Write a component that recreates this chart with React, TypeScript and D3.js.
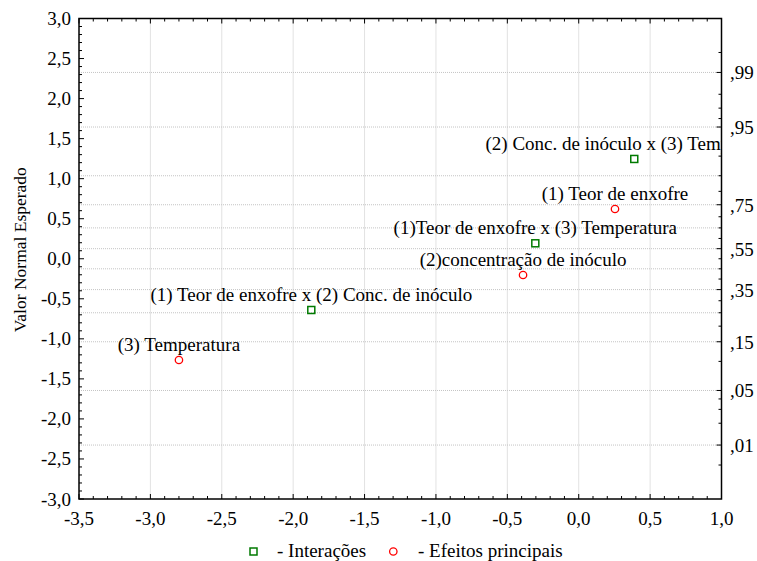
import React from "react";
import * as d3 from "d3";

// ---- data ----
const effectLabels = [
  "(2) Conc. de inóculo x (3) Temperatura",
  "(1) Teor de enxofre",
  "(1)Teor de enxofre x (3) Temperatura",
  "(2)concentração de inóculo",
  "(1) Teor de enxofre x (2) Conc. de inóculo",
  "(3) Temperatura",
];
const effectTypes = ["int", "main", "int", "main", "int", "main"];
const effectValues = [0.389, 0.254, -0.304, -0.39, -1.873, -2.8];
const expectedNormal = [1.246, 0.621, 0.193, -0.203, -0.64, -1.264];

const xTickValues = [-3.5, -3.0, -2.5, -2.0, -1.5, -1.0, -0.5, 0.0, 0.5, 1.0];
const yTickValues = [-3.0, -2.5, -2.0, -1.5, -1.0, -0.5, 0.0, 0.5, 1.0, 1.5, 2.0, 2.5, 3.0];
const probLabels = [0.01, 0.05, 0.15, 0.35, 0.55, 0.75, 0.95, 0.99];
const probGrid = [0.01, 0.05, 0.15, 0.25, 0.35, 0.45, 0.55, 0.65, 0.75, 0.85, 0.95, 0.99];
const probMinor = [
  0.005, 0.02, 0.03, 0.04, 0.1, 0.2, 0.25, 0.3, 0.4, 0.45, 0.5, 0.6, 0.65, 0.7, 0.8, 0.85,
  0.9, 0.96, 0.97, 0.98, 0.995,
];
const legendItems = ["- Interações", "- Efeitos principais"];

// inverse normal CDF (Acklam)
function qnorm(p: number): number {
  const a = [-3.969683028665376e1, 2.209460984245205e2, -2.759285104469687e2, 1.38357751867269e2, -3.066479806614716e1, 2.506628277459239];
  const b = [-5.447609879822406e1, 1.615858368580409e2, -1.556989798598866e2, 6.680131188771972e1, -1.328068155288572e1];
  const c = [-7.784894002430293e-3, -3.223964580411365e-1, -2.400758277161838, -2.549732539343734, 4.374664141464968, 2.938163982698783];
  const d = [7.784695709041462e-3, 3.224671290700398e-1, 2.445134137142996, 3.754408661907416];
  const pl = 0.02425;
  if (p < pl) {
    const q = Math.sqrt(-2 * Math.log(p));
    return (((((c[0] * q + c[1]) * q + c[2]) * q + c[3]) * q + c[4]) * q + c[5]) / ((((d[0] * q + d[1]) * q + d[2]) * q + d[3]) * q + 1);
  }
  if (p > 1 - pl) {
    const q = Math.sqrt(-2 * Math.log(1 - p));
    return -(((((c[0] * q + c[1]) * q + c[2]) * q + c[3]) * q + c[4]) * q + c[5]) / ((((d[0] * q + d[1]) * q + d[2]) * q + d[3]) * q + 1);
  }
  const q = p - 0.5;
  const r = q * q;
  return ((((((a[0] * r + a[1]) * r + a[2]) * r + a[3]) * r + a[4]) * r + a[5]) * q) / (((((b[0] * r + b[1]) * r + b[2]) * r + b[3]) * r + b[4]) * r + 1);
}

const W = 757;
const H = 561;
const L = 79;
const R = 721.5;
const T = 18.5;
const B = 499;
const FONT = '"Liberation Serif", "Times New Roman", Times, serif';

const locale = d3.formatLocale({ decimal: ",", thousands: ".", grouping: [3], currency: ["", ""], minus: "-" });
const fmt = locale.format(".1f");
const fmtProb = (p: number) => "," + String(Math.round(p * 100)).padStart(2, "0");

export default function App() {
  const x = d3.scaleLinear().domain([-3.5, 1.0]).range([L, R]);
  const y = d3.scaleLinear().domain([-3, 3]).range([B, T]);
  const xMinor = d3.range(-35, 11).map((v) => v / 10);
  const yMinor = d3.range(-30, 31).map((v) => v / 10);
  const grid = "#c4c4c4";
  const green = "#007a00";
  const red = "#ff0000";
  const ts = { fontFamily: FONT };

  return (
    <svg width={W} height={H} style={{ position: "absolute", left: 0, top: 0, background: "#fff", fontFamily: FONT }}>
      <defs>
        <clipPath id="plotclip">
          <rect x={L} y={T} width={R - L} height={B - T} />
        </clipPath>
      </defs>
      <rect x={0} y={0} width={W} height={H} fill="#fff" />
      {/* vertical grid */}
      {xTickValues.slice(1, -1).map((v) => (
        <line key={"gx" + v} x1={x(v)} x2={x(v)} y1={T} y2={B} stroke={grid} strokeWidth={1} strokeDasharray="1,1" />
      ))}
      {/* horizontal grid (normal probabilities) */}
      {probGrid.map((p) => (
        <line key={"gy" + p} x1={L} x2={R} y1={y(qnorm(p))} y2={y(qnorm(p))} stroke={grid} strokeWidth={1} strokeDasharray="1,1" />
      ))}
      {/* ticks */}
      {xMinor.map((v) => {
        const major = xTickValues.some((t) => Math.abs(t - v) < 1e-6);
        const len = major ? 5 : 3;
        return (
          <g key={"xt" + v}>
            <line x1={x(v)} x2={x(v)} y1={B} y2={B - len} stroke="#000" strokeWidth={1} />
            <line x1={x(v)} x2={x(v)} y1={T} y2={T + len} stroke="#000" strokeWidth={1} />
          </g>
        );
      })}
      {yMinor.map((v) => {
        const major = yTickValues.some((t) => Math.abs(t - v) < 1e-6);
        const len = major ? 5 : 3;
        return <line key={"yt" + v} x1={L} x2={L + len} y1={y(v)} y2={y(v)} stroke="#000" strokeWidth={1} />;
      })}
      {probMinor.map((p) => (
        <line key={"pm" + p} x1={R} x2={R - 3} y1={y(qnorm(p))} y2={y(qnorm(p))} stroke="#000" strokeWidth={1} />
      ))}
      {probLabels.map((p) => (
        <line key={"pt" + p} x1={R} x2={R - 5} y1={y(qnorm(p))} y2={y(qnorm(p))} stroke="#000" strokeWidth={1} />
      ))}
      {/* frame */}
      <rect x={L} y={T} width={R - L} height={B - T} fill="none" stroke="#000" strokeWidth={1.5} />
      {/* tick labels */}
      {xTickValues.map((v) => (
        <text key={"xl" + v} x={x(v)} y={525} textAnchor="middle" fontSize={19} fill="#000" style={ts}>
          {fmt(v)}
        </text>
      ))}
      {yTickValues.map((v) => (
        <text key={"yl" + v} x={71} y={y(v) + 6.5} textAnchor="end" fontSize={19} fill="#000" style={ts}>
          {fmt(v)}
        </text>
      ))}
      {probLabels.map((p) => (
        <text key={"pl" + p} x={730} y={y(qnorm(p)) + 7} textAnchor="start" fontSize={19} fill="#000" style={ts}>
          {fmtProb(p)}
        </text>
      ))}
      {/* axis title */}
      <text transform={`translate(26, ${(T + B) / 2 - 9}) rotate(-90)`} textAnchor="middle" fontSize={17.5} fill="#000" style={ts}>
        Valor Normal Esperado
      </text>
      {/* points + labels */}
      <g clipPath="url(#plotclip)">
        {effectValues.map((v, i) => (
          <text key={"lab" + i} x={x(v)} y={y(expectedNormal[i]) - 9} textAnchor="middle" fontSize={19} fill="#000" style={ts}>
            {effectLabels[i]}
          </text>
        ))}
        {effectValues.map((v, i) =>
          effectTypes[i] === "int" ? (
            <rect key={"m" + i} x={x(v) - 3.5} y={y(expectedNormal[i]) - 3.5} width={7} height={7} fill="none" stroke={green} strokeWidth={1.5} />
          ) : (
            <circle key={"m" + i} cx={x(v)} cy={y(expectedNormal[i])} r={3.7} fill="none" stroke={red} strokeWidth={1.3} />
          )
        )}
      </g>
      {/* legend */}
      <rect x={250} y={548} width={7} height={7} fill="none" stroke={green} strokeWidth={1.5} />
      <text x={277} y={557} fontSize={19} fill="#000" style={ts}>{legendItems[0]}</text>
      <circle cx={393.3} cy={551.5} r={3.7} fill="none" stroke={red} strokeWidth={1.3} />
      <text x={418} y={557} fontSize={19} fill="#000" style={ts}>{legendItems[1]}</text>
    </svg>
  );
}
